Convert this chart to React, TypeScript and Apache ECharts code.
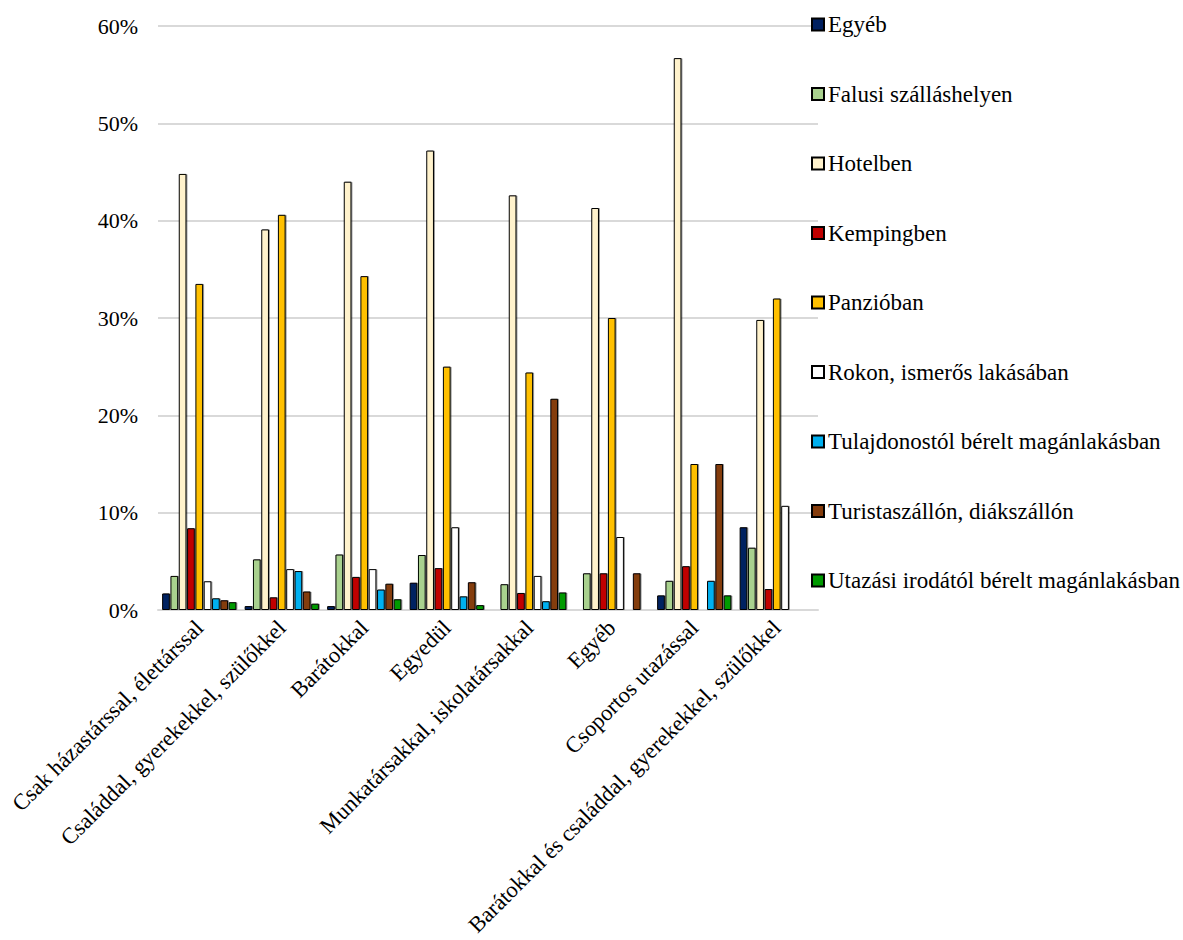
import React, { useEffect, useRef } from "react";
import * as echarts from "echarts";

const categories = [
  "Csak házastárssal, élettárssal",
  "Családdal, gyerekekkel, szülőkkel",
  "Barátokkal",
  "Egyedül",
  "Munkatársakkal, iskolatársakkal",
  "Egyéb",
  "Csoportos utazással",
  "Barátokkal és családdal, gyerekekkel, szülőkkel",
];

const seriesNames = [
  "Egyéb",
  "Falusi szálláshelyen",
  "Hotelben",
  "Kempingben",
  "Panzióban",
  "Rokon, ismerős lakásában",
  "Tulajdonostól bérelt magánlakásban",
  "Turistaszállón, diákszállón",
  "Utazási irodától bérelt magánlakásban",
];

const colors = ["#002060", "#A9D18E", "#FFF2CC", "#C00000", "#FFC000", "#FFFFFF", "#00B0F0", "#843C0C", "#009A00"];

const egyeb = [1.7, 0.4, 0.4, 2.8, 0, 0, 1.5, 8.5];
const falusi = [3.5, 5.2, 5.7, 5.65, 2.65, 3.77, 3.0, 6.4];
const hotel = [44.8, 39.1, 44.0, 47.2, 42.6, 41.3, 56.7, 29.8];
const kemping = [8.4, 1.3, 3.4, 4.3, 1.75, 3.77, 4.5, 2.15];
const panzio = [33.5, 40.6, 34.3, 25.0, 24.4, 30.0, 15.0, 32.0];
const rokon = [2.95, 4.2, 4.2, 8.5, 3.5, 7.5, 0, 10.7];
const tulajdonos = [1.2, 4.0, 2.1, 1.4, 0.9, 0, 3.0, 0];
const turista = [1.0, 1.9, 2.7, 2.85, 21.7, 3.77, 15.0, 0];
const utazasi = [0.8, 0.65, 1.1, 0.5, 1.8, 0, 1.5, 0];

const seriesData = [egyeb, falusi, hotel, kemping, panzio, rokon, tulajdonos, turista, utazasi];

const FONT = "'Liberation Serif', 'Times New Roman', serif";

export default function App() {
  const ref = useRef<HTMLDivElement>(null);
  useEffect(() => {
    if (!ref.current) return;
    const chart = echarts.init(ref.current, undefined, { renderer: "svg" });
    chart.setOption({
      animation: false,
      backgroundColor: "#ffffff",
      textStyle: { fontFamily: FONT },
      grid: { left: 158, right: 365, top: 26, bottom: 330, containLabel: false },
      legend: {
        orient: "vertical",
        left: 806,
        top: 8,
        itemWidth: 12,
        itemHeight: 12,
        itemGap: 46.5,
        icon: "rect",
        data: seriesNames,
        textStyle: { fontFamily: FONT, fontSize: 23, color: "#000", lineHeight: 22, padding: [0, 0, 0, -1] },
      },
      xAxis: {
        type: "category",
        data: categories,
        axisLine: { show: true, lineStyle: { color: "#d9d9d9", width: 2 } },
        axisTick: { show: false },
        axisLabel: {
          rotate: 45,
          interval: 0,
          fontFamily: FONT,
          fontSize: 22.5,
          color: "#000",
          margin: 14,
        },
      },
      yAxis: {
        type: "value",
        min: 0,
        max: 60,
        interval: 10,
        axisLine: { show: false },
        axisTick: { show: false },
        splitLine: { lineStyle: { color: "#d9d9d9", width: 2 } },
        axisLabel: {
          formatter: (v: number) => v + "%",
          fontFamily: FONT,
          fontSize: 22,
          color: "#000",
          margin: 20,
        },
      },
      series: seriesNames.map((name, i) => ({
        name,
        type: "bar",
        data: seriesData[i],
        barGap: "8%",
        barCategoryGap: "10%",
        itemStyle: {
          color: colors[i],
          borderColor: "#000",
          borderWidth: 1,
          shadowColor: "rgba(0,0,0,0.4)",
          shadowOffsetX: 1,
          shadowOffsetY: 0,
          shadowBlur: 1,
        },
      })),
    });
    return () => chart.dispose();
  }, []);
  return <div ref={ref} style={{ width: 1183, height: 940, position: "absolute", left: 0, top: 0 }} />;
}
